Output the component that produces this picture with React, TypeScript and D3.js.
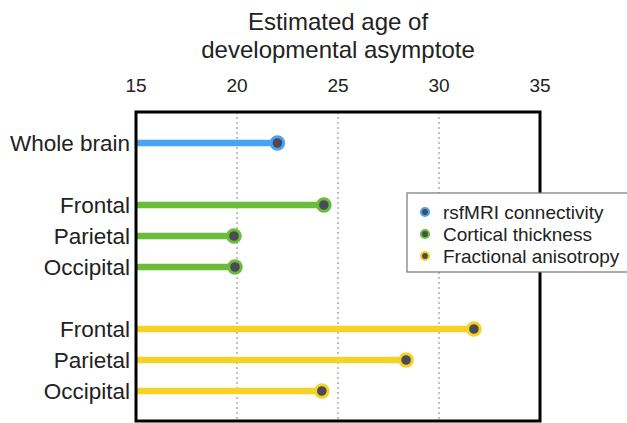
import React from "react";
import * as d3 from "d3";

const labels = ["Whole brain", "Frontal", "Parietal", "Occipital", "Frontal", "Parietal", "Occipital"];
const rowPos = [0, 2, 3, 4, 6, 7, 8];
const values = [22.0, 24.3, 19.85, 19.9, 31.73, 28.37, 24.2];
const seriesIdx = [0, 1, 1, 1, 2, 2, 2];
const seriesNames = ["rsfMRI connectivity", "Cortical thickness", "Fractional anisotropy"];
const seriesColors = ["#4aa3f2", "#69bd3a", "#f4d226"];
const xTicks = [15, 20, 25, 30, 35];
const gridTicks = [20, 25, 30];

export default function App() {
  const W = 627, H = 423;
  const left = 136, right = 540, top = 112, bottom = 421;
  const x = d3.scaleLinear().domain([15, 35]).range([left, right]);
  const y = d3.scaleLinear().domain([0, 8]).range([143, 391]);
  const font = "'Liberation Sans', Arial, Helvetica, sans-serif";
  return (
    <svg width={W} height={H} style={{ position: "absolute", left: 0, top: 0 }} fontFamily={font}>
      <text x={338} y={30} textAnchor="middle" fontSize={24} fill="#222">Estimated age of</text>
      <text x={338} y={58} textAnchor="middle" fontSize={24} fill="#222">developmental asymptote</text>
      {xTicks.map((t) => (
        <text key={t} x={x(t)} y={92} textAnchor="middle" fontSize={19} fill="#222">{t}</text>
      ))}
      {gridTicks.map((t) => (
        <line key={t} x1={x(t)} x2={x(t)} y1={top} y2={bottom} stroke="#999" strokeWidth={1.2} strokeDasharray="2,3" />
      ))}
      {values.map((v, i) => (
        <g key={i}>
          <line x1={left} x2={x(v)} y1={y(rowPos[i])} y2={y(rowPos[i])} stroke={seriesColors[seriesIdx[i]]} strokeWidth={6.5} />
          <circle cx={x(v)} cy={y(rowPos[i])} r={6.3} fill="#4a4b55" stroke={seriesColors[seriesIdx[i]]} strokeWidth={3} />
          <text x={130} y={y(rowPos[i])} dy="0.35em" textAnchor="end" fontSize={22.5} fill="#222">{labels[i]}</text>
        </g>
      ))}
      <rect x={left} y={top} width={right - left} height={bottom - top} fill="none" stroke="#000" strokeWidth={3} />
      <rect x={407} y={193} width={230} height={79} fill="#fff" stroke="#777" strokeWidth={1.2} />
      {seriesNames.map((n, i) => (
        <g key={n}>
          <circle cx={425} cy={212 + i * 22} r={4} fill="#4a4b55" stroke={seriesColors[i]} strokeWidth={2.2} />
          <text x={443} y={212 + i * 22} dy="0.35em" fontSize={19} fill="#222">{n}</text>
        </g>
      ))}
    </svg>
  );
}
